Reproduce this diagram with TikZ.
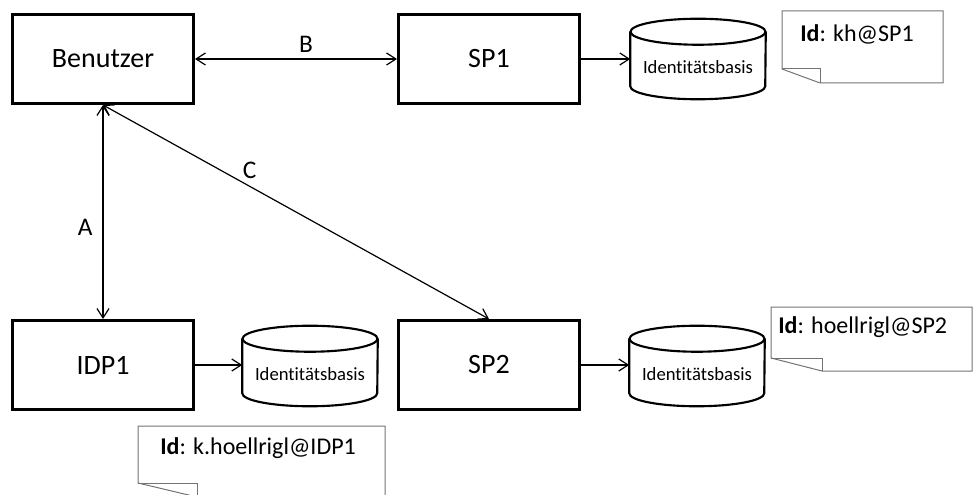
\documentclass[tikz,border=0pt]{standalone}
\usepackage{fontspec}
\setmainfont{Carlito}[Ligatures=NoCommon]
\usepackage{tikz}
\usetikzlibrary{arrows.meta}

\tikzset{
  box/.style={draw,line width=2pt,minimum width=136pt,minimum height=67pt,font=\fontsize{21}{24}\selectfont},
  datenbank/.style={rectangle,minimum width=101.25pt,minimum height=60pt,inner sep=0pt,font=\fontsize{14}{16}\selectfont},
  dblinie/.style={line width=1.6pt},
  notiz/.style={draw=black!55,line width=0.75pt},
  notiztext/.style={anchor=west,inner sep=0pt,font=\fontsize{18}{21}\selectfont},
  pfeil/.style={line width=0.9pt,-{Straight Barb[length=7pt,width=9pt]}},
  doppelpfeil/.style={line width=0.9pt,{Straight Barb[length=7pt,width=9pt]}-{Straight Barb[length=7pt,width=9pt]}},
  marke/.style={font=\fontsize{19}{22}\selectfont}
}
\newcommand{\idbasis}{\raisebox{-6pt}[\height][\depth]{Identitätsbasis}}

\begin{document}
\begin{tikzpicture}[x=0.75pt,y=0.75pt,yscale=-1,xscale=1]
        \useasboundingbox (0,0) rectangle (973,495);
        % Boxen
        \draw (103,59) node [box] (benutzer) {Benutzer};
        \draw (489,59) node [box] (sp1) {SP1};
        \draw (103,365) node [box] (idp1) {IDP1};
        \draw (489,365) node [box] (sp2) {SP2};
        % Identitaetsbasen (yshift zaehlt hier nach unten)
        \draw (698,59) node [datenbank] (db1) {\idbasis};
        \draw (310,366) node [datenbank] (db2) {\idbasis};
        \draw (697,366) node [datenbank] (db3) {\idbasis};
        \foreach \n in {db1,db2,db3} {
          \draw [dblinie] ([yshift=9.75pt]\n.north) ellipse (67.5 and 13);
          \draw [dblinie] ([yshift=9.75pt]\n.north west) -- ([yshift=-9.75pt]\n.south west)
                arc [start angle=180,end angle=0,x radius=67.5,y radius=13]
                -- ([yshift=9.75pt]\n.north east);
        }
        % Verbindungen
        \draw [doppelpfeil] (benutzer) -- node [marke,pos=0.55,above=1pt] {B} (sp1);
        \draw [doppelpfeil] (benutzer.south) -- node [marke,pos=0.57,left=4pt] {A} (idp1.north);
        \draw [doppelpfeil] (benutzer.south) -- node [marke,pos=0.38,above=2pt] {C} (sp2.north);
        \draw [pfeil] (sp1) -- (db1);
        \draw [pfeil] (idp1.east) -- (idp1.east -| db2.west);
        \draw [pfeil] (sp2.east) -- (sp2.east -| db3.west);
        % Notizen
        \draw [notiz] (782,11) -- (943,11) -- (943,83) -- (820,83) -- (782,69) -- cycle;
        \draw [notiz] (782,69) -- (820,69) -- (820,83);
        \draw (800,34) node [notiztext] (id1) {\textbf{Id}: kh@SP1};
        \draw [notiz] (138,426) -- (385,426) -- (385,497) -- (197,497) -- (138,483) -- cycle;
        \draw [notiz] (138,483) -- (197,483) -- (197,497);
        \draw (160,448) node [notiztext] (id2) {\textbf{Id}: k.hoellrigl@IDP1};
        \draw [notiz] (771,307) -- (972,307) -- (972,371) -- (822,371) -- (771,358) -- cycle;
        \draw [notiz] (771,358) -- (822,358) -- (822,371);
        \draw (778,327) node [notiztext] (id3) {\textbf{Id}: hoellrigl@SP2};
\end{tikzpicture}
\end{document}
